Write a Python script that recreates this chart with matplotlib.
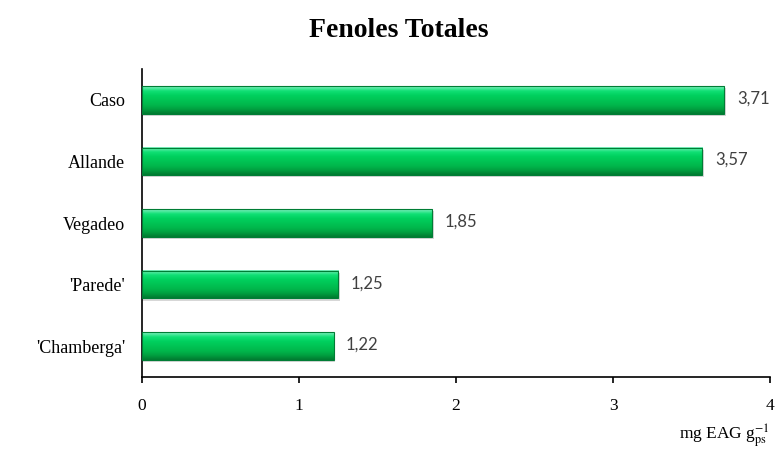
import numpy as np
import matplotlib
matplotlib.use("Agg")
import matplotlib.pyplot as plt
from matplotlib.colors import LinearSegmentedColormap

plt.rcParams['mathtext.fontset'] = 'stix'

categories = ["'Chamberga'", "'Parede'", "Vegadeo", "Allande", "Caso"]
values = [1.22, 1.25, 1.85, 3.57, 3.71]
value_labels = ["1,22", "1,25", "1,85", "3,57", "3,71"]
xticks = [0, 1, 2, 3, 4]

fig = plt.figure(figsize=(7.75, 4.5), dpi=100)
ax = fig.add_axes([142 / 775, 73 / 450, 628 / 775, 308 / 450])

# vertical gradient for the bars: dark bottom, bright top edge
cmap = LinearSegmentedColormap.from_list(
    "bar", ["#007a30", "#00a040", "#00b84c", "#00c454", "#00d05e",
            "#10e074", "#80f0c0"])
grad = np.linspace(0, 1, 64).reshape(-1, 1)
h = 0.45

for i, (v, lab) in enumerate(zip(values, value_labels)):
    # soft shadow
    ax.barh(i - 0.035, v + 0.012, height=h, color="#a8a8a8", alpha=0.45,
            zorder=1, linewidth=0)
    ax.imshow(grad, cmap=cmap, aspect="auto", origin="lower",
              extent=(0, v, i - h / 2, i + h / 2), zorder=2,
              interpolation="bicubic")
    ax.barh(i, v, height=h, fill=False, edgecolor="#007d35", linewidth=0.8,
            zorder=3)
    ax.annotate(lab, (v, i), xytext=(9, 1), textcoords="offset points",
                va="center", ha="left", fontsize=12, color="#404040",
                family="Lato")

ax.set_xlim(0, 4)
ax.set_ylim(-0.5, 4.5)
ax.set_xticks(xticks)
ax.set_xticklabels([str(t) for t in xticks], family="Liberation Serif",
                   fontsize=12.5)
ax.set_yticks(range(len(categories)))
ax.set_yticklabels(categories, family="Liberation Serif", fontsize=13)
ax.tick_params(axis="y", length=0, pad=12)
ax.tick_params(axis="x", direction="out", length=4, width=1.2, pad=11)

for s in ["top", "right"]:
    ax.spines[s].set_visible(False)
for s in ["left", "bottom"]:
    ax.spines[s].set_linewidth(1.2)
    ax.spines[s].set_color("black")

fig.text(0.514, 0.932, "Fenoles Totales", ha="center", va="center",
         family="Liberation Serif", fontweight="bold", fontsize=20)
fig.text(0.993, 0.03, r"mg EAG g$_{\mathrm{ps}}^{-1}$", ha="right",
         va="center", family="Liberation Serif", fontsize=12.5)

fig.savefig("out.png", dpi=100)
